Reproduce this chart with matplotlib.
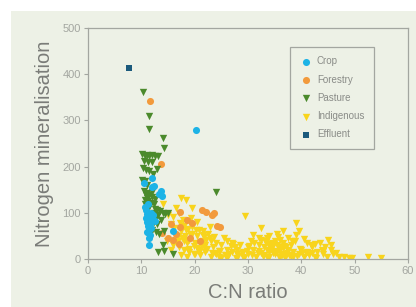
import numpy as np
import matplotlib
matplotlib.use("Agg")
import matplotlib.pyplot as plt
from matplotlib.patches import Rectangle

# data (C:N ratio, N mineralisation)
crop_x = [20.3, 12.0, 10.5, 12.0, 12.4, 13.6, 13.8, 13.3, 10.8, 11.0, 11.3, 10.9, 11.5,
          11.0, 11.6, 11.2, 11.8, 11.4, 11.0, 11.6, 11.5, 11.5, 12.2, 12.0, 10.7, 11.3,
          12.5, 11.8, 16.0]
crop_y = [280, 175, 165, 155, 158, 148, 137, 140, 105, 98, 92, 88, 85,
          80, 76, 72, 68, 63, 58, 52, 45, 30, 95, 88, 112, 118,
          82, 100, 60]

forestry_x = [11.7, 13.6, 21.3, 22.2, 23.2, 23.6, 24.8, 24.2, 17.3, 18.5, 19.5, 17.2,
              16.5, 15.0, 17.0, 21.0, 16.0, 13.8, 19.1, 15.5]
forestry_y = [342, 205, 106, 102, 95, 99, 69, 72, 101, 84, 78, 69,
              55, 45, 32, 40, 42, 56, 45, 75]

pasture_x = [10.3, 11.5, 11.5, 14.0, 14.2, 24.0, 10.2, 10.6, 11.0, 11.4, 12.0, 12.6,
             13.2, 10.5, 11.2, 12.0, 13.0, 10.4, 10.8, 11.5, 12.1, 10.1, 10.6, 11.0,
             10.5, 11.0, 11.5, 12.0, 12.5, 10.6, 11.2, 11.8, 12.3, 10.7, 11.4, 12.6,
             13.0, 13.5, 14.0, 14.5, 15.0, 13.2, 12.8, 12.3, 13.0, 12.0, 12.8, 13.4,
             11.6, 11.5, 13.2, 14.0, 14.2, 16.0, 12.0, 11.0, 13.6, 10.8, 12.4, 14.3]
pasture_y = [362, 310, 282, 262, 240, 145, 228, 224, 226, 222, 225, 224,
             222, 212, 210, 210, 195, 198, 192, 190, 185, 172, 168, 160,
             148, 142, 138, 135, 130, 128, 125, 122, 118, 118, 112, 108,
             106, 104, 100, 98, 100, 95, 88, 80, 75, 62, 58, 55,
             55, 48, 15, 30, 17, 10, 145, 132, 85, 138, 100, 60]

indigenous_x = [17.5, 18.3, 19.5, 16.5, 17.0, 14.0, 15.0, 16.0, 15.5, 16.2, 17.2, 18.0,
                18.8, 19.5, 20.5, 21.5, 22.5, 17.5, 16.8, 18.2, 19.0, 20.0, 17.0, 18.0,
                19.0, 17.5, 18.5, 20.0, 21.0, 22.0, 23.0, 24.0, 25.0, 26.0, 27.0, 28.0,
                29.0, 24.0, 23.0, 22.0, 21.0, 20.5, 19.8, 18.6, 16.0, 15.5, 14.8, 22.8,
                21.8, 23.5, 25.5, 26.5, 27.5, 29.5, 24.5, 25.0, 26.0, 28.0, 29.0, 30.0,
                31.0, 32.0, 32.5, 33.0, 34.0, 35.0, 36.0, 36.5, 37.5, 38.0, 39.0, 39.5,
                40.0, 41.0, 42.0, 43.0, 44.0, 45.0, 45.5, 46.0, 47.0, 48.0, 49.0, 49.5,
                52.5, 55.0, 31.0, 30.5, 33.5, 34.5, 35.5, 37.0, 38.5, 41.5, 42.5, 44.5,
                43.5, 30.0, 31.5, 32.5, 33.5, 34.5, 35.5, 36.5, 37.5, 38.5, 39.5, 40.5,
                41.0, 42.0, 36.0, 35.0, 34.0, 33.0, 32.0, 27.0, 28.5, 26.0, 19.5, 20.8,
                21.5, 22.3, 23.8, 24.6, 25.8, 26.8, 27.8, 28.8, 29.8, 30.8, 31.8, 32.8,
                33.8, 34.8, 35.8, 36.8, 37.8, 38.8, 39.8, 40.8, 41.8, 42.8, 43.8, 44.8,
                46.5, 33.2, 34.2, 35.2, 36.2, 37.2, 38.2, 39.2, 40.2, 33.6, 34.6, 35.6,
                36.6, 37.6, 31.2, 30.2, 29.2, 28.2, 27.2, 18.8, 19.8, 20.8, 21.8, 22.8,
                40.5, 42.5, 44.0, 45.5, 39.0, 38.0, 37.0, 36.0, 34.0, 32.0, 16.5, 17.8,
                18.0, 19.2, 20.2, 21.2, 22.2, 23.2, 17.6, 18.9, 20.4, 21.6, 19.4, 18.4,
                16.9, 23.6, 24.8, 25.6, 34.4, 35.4, 36.4, 37.4, 33.4, 32.4, 35.9, 34.9]
indigenous_y = [132, 128, 110, 110, 100, 120, 95, 90, 75, 68, 78, 72,
                65, 70, 80, 60, 55, 60, 50, 50, 42, 35, 25, 20,
                15, 8, 5, 10, 20, 30, 40, 35, 30, 20, 15, 10,
                5, 10, 5, 15, 8, 50, 28, 35, 30, 20, 40, 70,
                48, 25, 45, 10, 25, 92, 5, 2, 3, 20, 15, 10,
                20, 30, 68, 25, 15, 10, 20, 60, 45, 30, 78, 60,
                20, 35, 25, 15, 10, 42, 20, 10, 5, 5, 3, 2,
                5, 3, 52, 40, 45, 35, 55, 10, 5, 8, 5, 25,
                35, 25, 5, 12, 5, 25, 30, 35, 20, 15, 10, 5,
                15, 12, 5, 40, 50, 8, 18, 35, 30, 40, 55, 62,
                38, 22, 12, 18, 8, 28, 3, 12, 18, 8, 14, 6,
                32, 18, 4, 28, 8, 38, 22, 12, 30, 2, 20, 4,
                14, 40, 28, 16, 10, 26, 40, 6, 14, 20, 12, 48,
                24, 8, 34, 28, 2, 6, 32, 20, 10, 15, 25, 45,
                44, 32, 18, 30, 52, 6, 2, 42, 4, 46, 40, 85,
                40, 55, 62, 30, 42, 14, 45, 22, 24, 52, 88, 62,
                38, 48, 18, 8, 22, 16, 8, 14, 36, 42, 26, 32]

effluent_x = [7.7]
effluent_y = [413]

x_ticks = [0, 10, 20, 30, 40, 50, 60]
y_ticks = [0, 100, 200, 300, 400, 500]

BG = '#edf1e6'
GREY = '#a3a6a0'


def main():
    fig = plt.figure(figsize=(4.16, 3.07), dpi=100, facecolor='white')
    # light green panel, leaving a thin white margin at top and left
    panel = Rectangle((11 / 416, 0), 1, 1 - 11 / 307, transform=fig.transFigure,
                      facecolor=BG, edgecolor='none', zorder=-10)
    fig.add_artist(panel)

    ax = fig.add_axes([88 / 416, 1 - 259 / 307, 320 / 416, 231 / 307])
    ax.set_facecolor(BG)

    ax.scatter(indigenous_x, indigenous_y, marker='v', s=28, c='#f8d41c', linewidths=0, label='Indigenous', zorder=2)
    ax.scatter(forestry_x, forestry_y, marker='o', s=26, c='#f29a3c', linewidths=0, label='Forestry', zorder=3)
    ax.scatter(pasture_x, pasture_y, marker='v', s=28, c='#4b8a2c', linewidths=0, label='Pasture', zorder=3)
    ax.scatter(crop_x, crop_y, marker='o', s=26, c='#1db3e6', linewidths=0, label='Crop', zorder=3)
    ax.scatter(effluent_x, effluent_y, marker='s', s=13, c='#1b5a7c', linewidths=0, label='Effluent', zorder=3)

    ax.set_xlim(0, 60)
    ax.set_ylim(0, 500)
    ax.set_xticks(x_ticks)
    ax.set_yticks(y_ticks)
    for spine in ['top', 'right', 'bottom', 'left']:
        ax.spines[spine].set_color(GREY)
        ax.spines[spine].set_linewidth(0.9)
    ax.tick_params(colors=GREY, labelsize=8, length=3, width=0.8, pad=2)
    for lab in ax.get_xticklabels() + ax.get_yticklabels():
        lab.set_fontfamily('Liberation Sans')

    ax.set_xlabel('C:N ratio', fontsize=14.5, color='#7a7c78', family='Liberation Sans', labelpad=5)
    ax.set_ylabel('Nitrogen mineralisation', fontsize=14.5, color='#7a7c78', family='Liberation Sans', labelpad=6)

    handles, labels = ax.get_legend_handles_labels()
    order = [labels.index(n) for n in ['Crop', 'Forestry', 'Pasture', 'Indigenous', 'Effluent']]
    leg = ax.legend([handles[i] for i in order], [labels[i] for i in order],
                    loc='upper right', bbox_to_anchor=(0.909, 0.94),
                    prop={'family': 'Liberation Sans', 'size': 7}, labelcolor='#8a8c88',
                    frameon=True, fancybox=False, facecolor=BG, edgecolor=GREY,
                    borderpad=1.0, labelspacing=0.85, handletextpad=0.4, handlelength=1.4,
                    markerscale=1.0)
    leg.get_frame().set_linewidth(0.9)
    leg.get_frame().set_alpha(1)

    fig.savefig('out.png', dpi=100, facecolor=fig.get_facecolor())


if __name__ == '__main__':
    main()
